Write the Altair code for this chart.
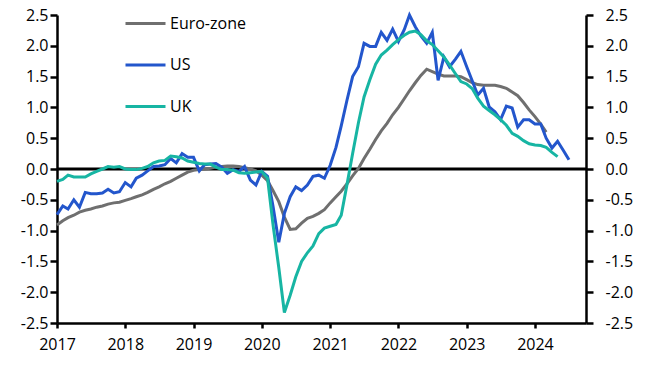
import altair as alt
import pandas as pd

# Monthly series starting Jan 2017
series_names = ["Euro-zone", "US", "UK"]
series_colors = ["#6f6f6f", "#2356cc", "#17b5a3"]

euro = [
    -0.91, -0.84, -0.79, -0.75, -0.70, -0.67, -0.65, -0.62, -0.60, -0.57, -0.55, -0.54,
    -0.51, -0.48, -0.45, -0.42, -0.38, -0.33, -0.29, -0.24, -0.20, -0.15, -0.10, -0.05,
    -0.02, -0.01, 0.00, 0.01, 0.03, 0.04, 0.05, 0.05, 0.04, 0.02, 0.00, -0.03,
    -0.10, -0.19, -0.35, -0.53, -0.78, -0.98, -0.97, -0.88, -0.80, -0.77, -0.72, -0.66,
    -0.55, -0.45, -0.36, -0.24, -0.11, 0.01, 0.17, 0.32, 0.48, 0.62, 0.74, 0.88,
    1.00, 1.14, 1.27, 1.40, 1.52, 1.62, 1.58, 1.54, 1.51, 1.51, 1.51, 1.50,
    1.45, 1.40, 1.37, 1.36, 1.36, 1.36, 1.34, 1.31, 1.25, 1.19, 1.08, 0.96,
    0.85, 0.73, 0.60,
]
us = [
    -0.74, -0.60, -0.65, -0.50, -0.62, -0.38, -0.40, -0.40, -0.39, -0.33, -0.39, -0.37,
    -0.22, -0.29, -0.15, -0.10, -0.03, 0.04, 0.05, 0.07, 0.17, 0.10, 0.25, 0.19,
    0.19, -0.03, 0.07, 0.08, 0.09, 0.03, -0.07, -0.01, -0.04, 0.04, -0.18, -0.26,
    -0.04, -0.12, -0.60, -1.19, -0.72, -0.45, -0.29, -0.35, -0.26, -0.12, -0.10, -0.15,
    0.06, 0.35, 0.70, 1.12, 1.50, 1.66, 2.04, 1.99, 1.99, 2.22, 2.09, 2.27,
    2.07, 2.26, 2.50, 2.31, 2.16, 2.04, 2.22, 1.44, 1.82, 1.66, 1.78, 1.91,
    1.66, 1.42, 1.20, 1.31, 1.01, 0.93, 0.80, 1.02, 0.99, 0.68, 0.80, 0.80,
    0.73, 0.73, 0.50, 0.34, 0.45, 0.30, 0.15,
]
uk = [
    -0.20, -0.17, -0.10, -0.13, -0.13, -0.13, -0.08, -0.04, 0.00, 0.04, 0.03, 0.04,
    0.00, -0.01, -0.01, 0.01, 0.04, 0.10, 0.13, 0.14, 0.21, 0.20, 0.18, 0.13,
    0.11, 0.09, 0.08, 0.08, 0.03, -0.01, -0.01, -0.02, -0.06, -0.07, -0.06, -0.05,
    -0.04, -0.15, -0.90, -1.60, -2.33, -2.05, -1.75, -1.50, -1.36, -1.25, -1.05, -0.96,
    -0.93, -0.90, -0.75, -0.25, 0.25, 0.75, 1.17, 1.45, 1.70, 1.85, 1.93, 2.02,
    2.10, 2.17, 2.22, 2.24, 2.18, 2.08, 2.02, 1.92, 1.82, 1.69, 1.55, 1.42,
    1.38, 1.30, 1.15, 1.02, 0.95, 0.88, 0.80, 0.71, 0.58, 0.53, 0.46, 0.41,
    0.39, 0.38, 0.35, 0.27, 0.20,
]

y_ticks = [-2.5, -2.0, -1.5, -1.0, -0.5, 0.0, 0.5, 1.0, 1.5, 2.0, 2.5]
x_tick_years = list(range(2017, 2025))

months = pd.date_range("2017-01-01", periods=len(us), freq="MS")
rows = []
for name, vals in zip(series_names, [euro, us, uk]):
    for d, v in zip(months, vals):
        rows.append({"date": d.strftime("%Y-%m-%d"), "value": v, "series": name})
df = pd.DataFrame(rows)

def ms(s):
    return int(pd.Timestamp(s, tz="UTC").timestamp() * 1000)

x_domain = [ms("2017-01-01"), ms("2024-09-30")]
x_values = [alt.DateTime(year=y, month=1, date=1, utc=True) for y in x_tick_years]

FONT = "Open Sans"
label_expr = "replace(format(datum.value, '.1f'), '\u2212', '-')"

x_enc = alt.X(
    "date:T",
    scale=alt.Scale(type="utc", domain=x_domain),
    axis=alt.Axis(
        values=x_values, format="%Y", title=None, grid=False,
        domainColor="black", domainWidth=2.5, tickColor="black", tickWidth=2.5,
        tickSize=5, labelPadding=8, labelFontSize=16, labelColor="black",
        labelFont=FONT, labelFlush=False,
    ),
)

color_enc = alt.Color(
    "series:N",
    scale=alt.Scale(domain=series_names, range=series_colors),
    legend=alt.Legend(
        orient="none", legendX=67, legendY=-13, title=None, direction="vertical",
        symbolType="stroke", symbolSize=1600, symbolStrokeWidth=3,
        labelFontSize=16, labelFont=FONT, labelColor="black",
        labelOffset=3, rowPadding=11.5, padding=0,
    ),
)

y_left = alt.Y(
    "value:Q",
    scale=alt.Scale(domain=[-2.5, 2.5], nice=False, zero=False),
    axis=alt.Axis(
        orient="left", values=y_ticks, labelExpr=label_expr, title=None, grid=False,
        domainColor="black", domainWidth=2.5, tickColor="black", tickWidth=2.5,
        tickSize=7, labelPadding=2, labelFontSize=16, labelColor="black", labelFont=FONT,
    ),
)

layers = []
for name in series_names:
    layers.append(
        alt.Chart(df)
        .transform_filter(alt.datum.series == name)
        .mark_line(strokeWidth=3)
        .encode(x=x_enc, y=y_left, color=color_enc)
    )

zero_df = pd.DataFrame({"value": [0.0]})
zero_rule = (
    alt.Chart(zero_df)
    .mark_rule(color="black", strokeWidth=3)
    .encode(
        y=alt.Y(
            "value:Q",
            scale=alt.Scale(domain=[-2.5, 2.5], nice=False, zero=False),
            axis=alt.Axis(
                orient="right", values=y_ticks, labelExpr=label_expr, title=None, grid=False,
                domainColor="black", domainWidth=2.5, tickColor="black", tickWidth=2.5,
                tickSize=7, labelPadding=12, labelFontSize=16, labelColor="black", labelFont=FONT,
            ),
        )
    )
)

lines = alt.layer(*layers)
chart = (
    alt.layer(zero_rule, lines)
    .resolve_scale(y="independent")
    .resolve_axis(y="independent")
    .properties(
        width=529, height=308,
        autosize=alt.AutoSizeParams(type="none"),
        padding={"left": 49, "top": 7, "right": 52, "bottom": 38},
    )
    .configure_view(stroke=None)
)

chart.save("out.html", embed_options={"renderer": "svg", "actions": False})
